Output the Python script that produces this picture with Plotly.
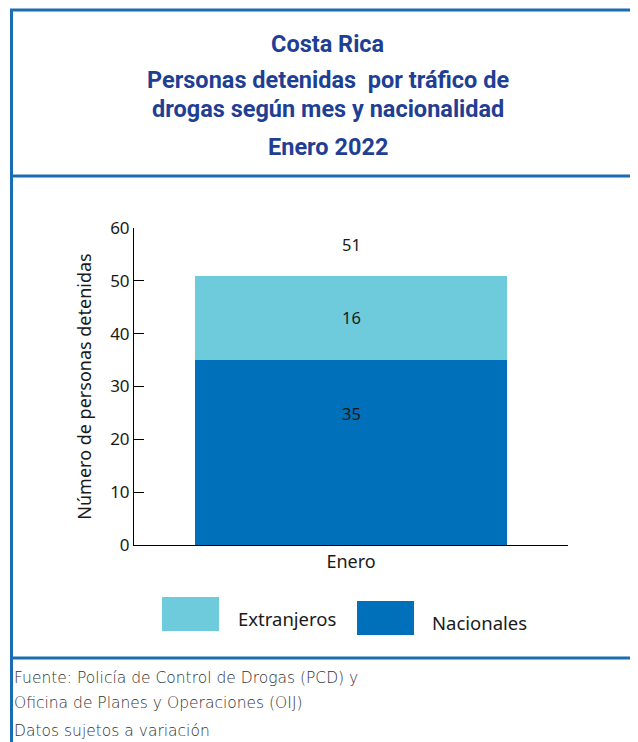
import plotly.graph_objects as go

# data
meses = ["Enero"]
nacionales = [35]
extranjeros = [16]
totales = [n + e for n, e in zip(nacionales, extranjeros)]

W, H = 638, 742
OFF = 8  # margen del body de la pagina
AZUL = "#0070BB"
CELESTE = "#6ECBDB"
MARCO = "#1B6DB2"
TITULO = "#1F3F95"


def px(x):
    return (x - OFF) / W


def py(y):
    return (H - (y - OFF)) / H


fig = go.Figure()
fig.add_trace(go.Bar(x=meses, y=nacionales, name="Nacionales",
                     marker=dict(color=AZUL, line=dict(width=0)), showlegend=False))
fig.add_trace(go.Bar(x=meses, y=extranjeros, name="Extranjeros",
                     marker=dict(color=CELESTE, line=dict(width=0)), showlegend=False))

etiqueta = dict(family="Noto Sans", size=16.5, color="#1a1a1a")
for m, n, e, t in zip(meses, nacionales, extranjeros, totales):
    fig.add_annotation(x=m, y=n, text=str(n), showarrow=False, yanchor="top",
                       yshift=-40, font=etiqueta)
    fig.add_annotation(x=m, y=n + e / 2, text=str(e), showarrow=False, font=etiqueta)
    fig.add_annotation(x=m, y=t, text=str(t), showarrow=False, yanchor="bottom",
                       yshift=18, font=etiqueta)

# titulo
titulos = [("Costa Rica", 44), ("Personas detenidas  por tráfico de", 80),
           ("drogas según mes y nacionalidad", 109), ("Enero 2022", 147)]
for txt, y in titulos:
    fig.add_annotation(x=px(328), y=py(y), xref="paper", yref="paper", text=txt,
                       xanchor="center", yanchor="middle", showarrow=False,
                       font=dict(family="Roboto", size=23.5, color=TITULO, weight="bold"))

# leyenda manual
leyenda = [("Extranjeros", CELESTE, 162, 597, 236), ("Nacionales", AZUL, 357, 601, 430)]
for txt, col, x0, y0, xt in leyenda:
    fig.add_shape(type="rect", xref="paper", yref="paper", x0=px(x0), x1=px(x0 + 57),
                  y0=py(y0), y1=py(y0 + 34), fillcolor=col, line=dict(width=0))
    fig.add_annotation(x=px(xt), y=py(y0 + 21), xref="paper", yref="paper", text=txt,
                       xanchor="left", yanchor="middle", showarrow=False,
                       font=dict(family="Noto Sans", size=18.5, color="#1a1a1a"))

# fuente
fuente = [("Fuente: Policía de Control de Drogas (PCD) y", 678),
          ("Oficina de Planes y Operaciones (OIJ)", 703),
          ("Datos sujetos a variación", 731)]
for txt, y in fuente:
    fig.add_annotation(x=px(12), y=py(y), xref="paper", yref="paper", text=txt,
                       xanchor="left", yanchor="middle", showarrow=False,
                       font=dict(family="DejaVu Sans", size=15.5, color="#333333",
                                 weight=200))

# marco
for y in (10, 176, 658):
    fig.add_shape(type="line", xref="paper", yref="paper", x0=px(10), x1=1,
                  y0=py(y), y1=py(y), line=dict(color=MARCO, width=3))
fig.add_shape(type="line", xref="paper", yref="paper", x0=px(11.5), x1=px(11.5),
              y0=py(9), y1=0, line=dict(color=MARCO, width=3))

fig.update_layout(
    width=W, height=H,
    margin=dict(l=0, r=0, t=0, b=0, pad=0, autoexpand=False),
    paper_bgcolor="white", plot_bgcolor="white",
    barmode="stack", bargap=0.28,
    font=dict(family="Noto Sans", size=16, color="#1a1a1a"),
    xaxis=dict(domain=[px(134), px(568)], showline=True, linecolor="black", linewidth=1,
               ticks="inside", tickson="boundaries", ticklen=9, tickcolor="black",
               showgrid=False, tickfont=dict(size=18), automargin=False),
    yaxis=dict(domain=[py(545), py(228)], range=[0, 60], dtick=10, showline=True,
               linecolor="black", linewidth=1, ticks="inside", ticklen=10,
               tickcolor="black", showgrid=False, zeroline=False,
               tickfont=dict(size=17), automargin=False,
               title=dict(text="Número de personas detenidas", font=dict(size=18),
                          standoff=13)),
)

fig.write_html("out.html")
